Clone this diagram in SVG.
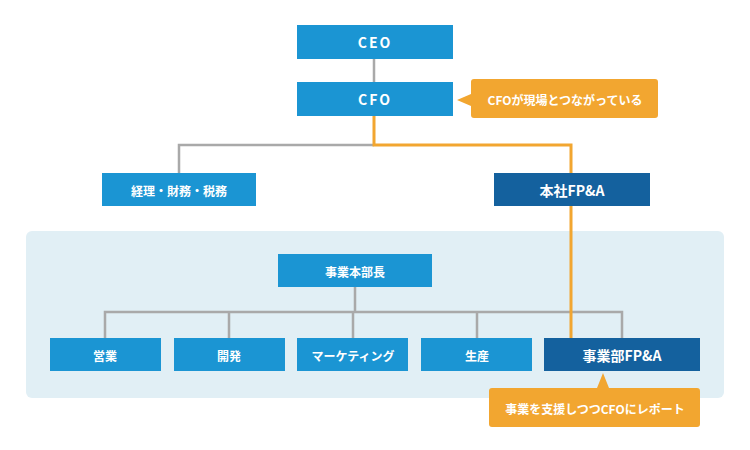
<svg xmlns="http://www.w3.org/2000/svg" width="750" height="450" viewBox="0 0 750 450">
<style>
.b{fill:#1b95d3}.d{fill:#14619e}.c{fill:#f2a630}
text{font-family:"Noto Sans CJK JP","Noto Sans",sans-serif;fill:#fff;text-anchor:middle;dominant-baseline:central;font-weight:bold}
.t{font-size:14px}.s{font-size:12px}
.g{stroke:#a9a9a9;stroke-width:2.5;fill:none}.o{stroke:#f2a630;stroke-width:3;fill:none}
</style>
<rect x="26" y="231" width="698" height="167" rx="6" fill="#e1eff5"/>
<g id="connectors">
<path class="g" d="M374 59V82M374 145H179V173M355 287V312M105 338V312H622V338M229 312V338M353 312V338M477 312V338"/>
<path class="o" d="M374 116V145H571V342"/>
</g>
<g id="ceo"><rect class="b" x="297" y="25" width="156" height="34"/><text class="t" x="375" y="42" letter-spacing="2">CEO</text></g>
<g id="cfo"><rect class="b" x="297" y="82" width="156" height="34"/><text class="t" x="375" y="99" letter-spacing="2">CFO</text></g>
<g id="note1"><path class="c" d="M474 79H655a3 3 0 0 1 3 3V115a3 3 0 0 1-3 3H474a3 3 0 0 1-3-3V106L457 100L471 94V82a3 3 0 0 1 3-3Z"/><text class="s" x="565" y="99">CFOが現場とつながっている</text></g>
<g id="keiri"><rect class="b" x="102" y="173" width="154" height="33"/><text class="s" x="179" y="190">経理・財務・税務</text></g>
<g id="honsha"><rect class="d" x="494" y="173" width="156" height="33"/><text class="t" x="572" y="190">本社FP&amp;A</text></g>
<g id="honbucho"><rect class="b" x="278" y="254" width="154" height="33"/><text class="s" x="355" y="271">事業本部長</text></g>
<g id="eigyo"><rect class="b" x="50" y="338" width="111" height="33"/><text class="s" x="105" y="355">営業</text></g>
<g id="kaihatsu"><rect class="b" x="174" y="338" width="111" height="33"/><text class="s" x="229" y="355">開発</text></g>
<g id="marketing"><rect class="b" x="297" y="338" width="111" height="33"/><text class="s" x="353" y="355">マーケティング</text></g>
<g id="seisan"><rect class="b" x="421" y="338" width="111" height="33"/><text class="s" x="477" y="355">生産</text></g>
<g id="jigyofpa"><rect class="d" x="544" y="338" width="156" height="33"/><text class="t" x="622" y="355">事業部FP&amp;A</text></g>
<g id="note2"><path class="c" d="M492 388H597L603 373L609 388H697a3 3 0 0 1 3 3V424a3 3 0 0 1-3 3H492a3 3 0 0 1-3-3V391a3 3 0 0 1 3-3Z"/><text class="s" x="595" y="408">事業を支援しつつCFOにレポート</text></g>
</svg>
